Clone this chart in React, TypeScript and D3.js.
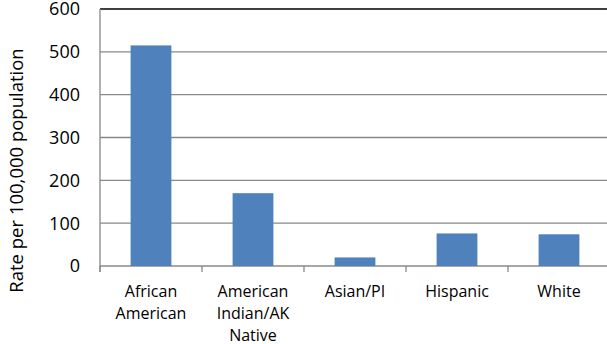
import React from "react";
import * as d3 from "d3";

const categories: string[][] = [
  ["African", "American"],
  ["American", "Indian/AK", "Native"],
  ["Asian/PI"],
  ["Hispanic"],
  ["White"],
];
const values: number[] = [515, 170, 20, 76, 74];
const yTicks: number[] = [0, 100, 200, 300, 400, 500, 600];
const yTitle = "Rate per 100,000 population";

const W = 607;
const H = 344;
const M = { left: 100, right: -3, top: 9, bottom: 78 };

export default function App() {
  const x = d3
    .scaleBand<number>()
    .domain(d3.range(values.length))
    .range([M.left, W - M.right])
    .padding(0);
  const y = d3.scaleLinear().domain([0, 600]).range([H - M.bottom, M.top]);
  const step = x.step();
  const barW = step * 0.4;
  const font = "'Open Sans', sans-serif";
  const x0 = M.left;
  const x1 = W - M.right;
  const y0 = y(0);

  return (
    <svg
      width={W}
      height={H}
      style={{ position: "absolute", left: 0, top: 0, background: "#fff" }}
    >
      {yTicks.map((t) => (
        <line
          key={"g" + t}
          x1={x0}
          x2={x1}
          y1={y(t)}
          y2={y(t)}
          stroke={t === 600 ? "#000" : "#888"}
          strokeWidth={t === 600 ? 1.6 : 1.3}
        />
      ))}
      {values.map((v, i) => (
        <rect
          key={"b" + i}
          x={(x(i) as number) + (step - barW) / 2}
          y={y(v)}
          width={barW}
          height={y0 - y(v)}
          fill="#4F81BD"
        />
      ))}
      <line x1={x0} x2={x0} y1={M.top} y2={y0 + 6} stroke="#888" strokeWidth={1.3} />
      {d3.range(values.length + 1).map((i) => (
        <line
          key={"t" + i}
          x1={x0 + i * step}
          x2={x0 + i * step}
          y1={y0}
          y2={y0 + 6}
          stroke="#888"
          strokeWidth={1.3}
        />
      ))}
      {yTicks.map((t) => (
        <text
          key={"l" + t}
          x={80}
          y={y(t)}
          dy="0.36em"
          textAnchor="end"
          fontFamily={font}
          fontSize={18}
          fill="#000"
        >
          {t}
        </text>
      ))}
      {categories.map((lines, i) => (
        <text
          key={"c" + i}
          textAnchor="middle"
          fontFamily={font}
          fontSize={16}
          fill="#000"
        >
          {lines.map((ln, j) => (
            <tspan key={j} x={(x(i) as number) + step / 2} y={y0 + 31 + j * 22}>
              {ln}
            </tspan>
          ))}
        </text>
      ))}
      <text
        transform={`translate(23, ${(M.top + y0) / 2 + 33}) rotate(-90)`}
        textAnchor="middle"
        fontFamily={font}
        fontSize={18.5}
        fill="#000"
      >
        {yTitle}
      </text>
    </svg>
  );
}
